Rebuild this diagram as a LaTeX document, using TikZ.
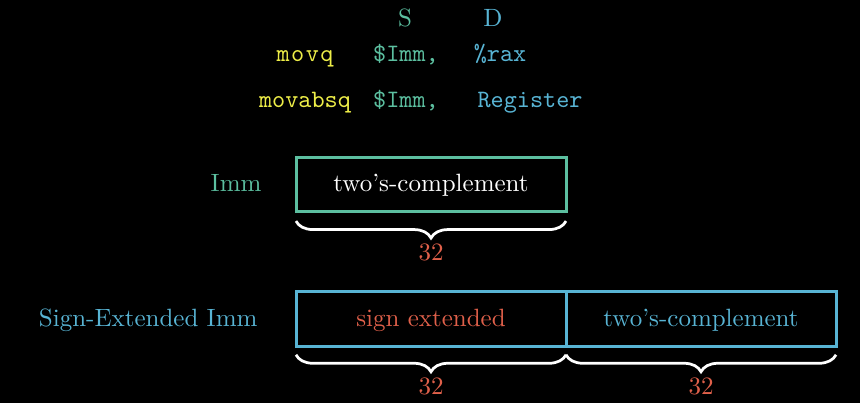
\documentclass[tikz,border=0pt]{standalone}
\usetikzlibrary{positioning,decorations.pathreplacing}
\definecolor{immteal}{HTML}{5CBFA0}
\definecolor{regblue}{HTML}{58B4D4}
\definecolor{opyellow}{HTML}{EEEE48}
\definecolor{bitred}{HTML}{E0604A}
\newcommand{\FieldWidth}{108pt}
\newcommand{\FieldHeight}{21.8pt}

\begin{document}
\begin{tikzpicture}[x=0.4pt,y=-0.4pt,
		field/.style={draw, line width=1.2pt, outer sep=0pt, inner sep=0pt, minimum width=\FieldWidth, minimum height=\FieldHeight, text height=1.6ex, text depth=.3ex},
		tag/.style={text height=1.6ex, text depth=.3ex},
		bitbrace/.style={decorate, decoration={brace, mirror, amplitude=6.8pt}, white, line width=1.1pt},
		bits/.style={bitred, inner sep=0pt, below=8.6pt},
		hdr/.style={anchor=base},
		asm/.style={font=\ttfamily, anchor=base},
	]
	\fill[black] (0,0) rectangle (860,403);

	\node[hdr, immteal] (src) at (405,26) {S};
	\node[hdr, regblue] (dst) at (493,26) {D};
	\node[asm, opyellow] (movq) at (305,61) {m\kern.6pt o\kern.6pt v\kern.6pt q};
	\node[asm, immteal] (movqsrc) at (406,61) {\$Imm,};
	\node[asm, regblue] (movqdst) at (500,61) {\%rax};
	\node[asm, opyellow] (movabsq) at (305,107.5) {movabsq};
	\node[asm, immteal] (movabsqsrc) at (406,107.5) {\$Imm,};
	\node[asm, regblue] (movabsqdst) at (530,107.5) {Register};

	\node[field, draw=immteal, text=white] (immbox) at (431,184.3) {two's-complement};
	\node[tag, immteal, left=10.3pt of immbox] (immlbl) {Imm};
	\draw[bitbrace] ([yshift=-3.8pt]immbox.south west) -- ([yshift=-3.8pt]immbox.south east) node[bits, midway] (immbits) {32};

	\node[field, draw=regblue, text=bitred] (signbox) at (431,319) {sign extended};
	\node[field, draw=regblue, text=regblue, right=0pt of signbox] (lowbox) {two's-complement};
	\node[tag, regblue, left=11.9pt of signbox] (signlbl) {Sign-Extended Imm};
	\draw[bitbrace] ([yshift=-3.4pt]signbox.south west) -- ([yshift=-3.4pt]signbox.south east) node[bits, midway] (signbits) {32};
	\draw[bitbrace] ([yshift=-3.4pt]lowbox.south west) -- ([yshift=-3.4pt]lowbox.south east) node[bits, midway] (lowbits) {32};
\end{tikzpicture}
\end{document}
